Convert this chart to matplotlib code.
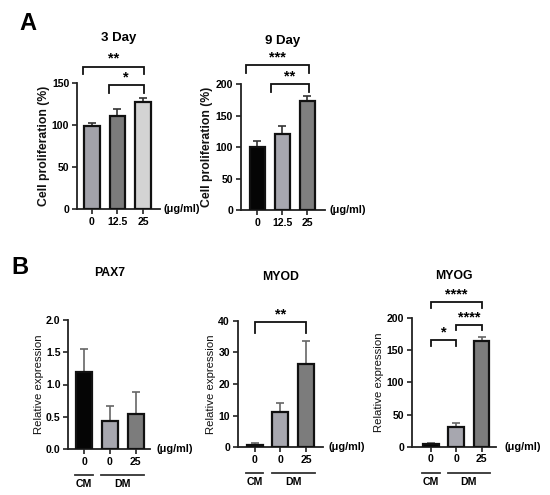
import matplotlib
matplotlib.use("Agg")
import matplotlib.pyplot as plt
from matplotlib.transforms import ScaledTranslation
from matplotlib.lines import Line2D
import numpy as np

plt.rcParams['font.family'] = ['Liberation Sans', 'DejaVu Sans']

# ---------------- data ----------------
a_doses = ["0", "12.5", "25"]
day3_mean = [99, 110, 127]
day3_err = [3, 8.5, 4.5]
day9_mean = [100, 121, 173]
day9_err = [9, 13, 8]
day3_sig = [(0, 2, "**", 169), (1, 2, "*", 147)]
day9_sig = [(0, 2, "***", 230), (1, 2, "**", 200)]

b_doses = ["0", "0", "25"]
b_groups = [("CM", 0, 0), ("DM", 1, 2)]
pax7_mean = [1.19, 0.44, 0.54]
pax7_err = [0.36, 0.23, 0.35]
myod_mean = [0.8, 11.2, 26.3]
myod_err = [0.5, 2.7, 7.4]
myog_mean = [4, 30.5, 164]
myog_err = [1.5, 6, 7]
myod_sig = [(0, 2, "**", 39.5)]
myog_sig = [(0, 2, "****", 225), (1, 2, "****", 190), (0, 1, "*", 166)]

W, H = 550, 495
fig = plt.figure(figsize=(W / 100, H / 100), dpi=100)


def make_ax(l, r, t, b):
    return fig.add_axes([l / W, 1 - b / H, (r - l) / W, (b - t) / H])


def style(ax, xlim, ylim, yticks, ylabels, xlabels, ylabel, ybold):
    ax.set_xlim(*xlim)
    ax.set_ylim(*ylim)
    for s in ["top", "right"]:
        ax.spines[s].set_visible(False)
    for s in ["left", "bottom"]:
        ax.spines[s].set_linewidth(1.3)
        ax.spines[s].set_color("#222222")
    ax.set_yticks(yticks)
    ax.set_yticklabels(ylabels, fontsize=7.6, fontweight="bold")
    ax.set_xticks(range(len(xlabels)))
    ax.set_xticklabels(xlabels, fontsize=7.6, fontweight="bold")
    ax.tick_params(axis="both", length=3.5, width=1.2, pad=2, color="#222222")
    ax.set_ylabel(ylabel, fontsize=8.8 if ybold else 8.2,
                  fontweight="bold" if ybold else "normal", labelpad=1.5,
                  color="#111111")


def bars(ax, means, errs, colors, width, ecolor):
    x = np.arange(len(means))
    ax.bar(x, means, width=width, color=colors, edgecolor="#111111",
           linewidth=1.6, zorder=3)
    ax.errorbar(x, means, yerr=[np.zeros(len(errs)), errs], fmt="none",
                ecolor=ecolor, elinewidth=1.2, capsize=2.8, capthick=1.2,
                zorder=2)


def brackets(ax, sig, drop, lshift, rshift):
    for i, j, lab, y in sig:
        x0, x1 = i + lshift, j + rshift
        ax.plot([x0, x0, x1, x1], [y - drop, y, y, y - drop], color="#111111",
                lw=1.3, clip_on=False, solid_joinstyle="miter")
        ax.text((x0 + x1) / 2, y + drop * 0.1, lab, ha="center", va="bottom",
                fontsize=10.5, fontweight="bold", clip_on=False)


def unit(ax, dx):
    ax.annotate("(μg/ml)", xy=(1, 0), xycoords="axes fraction",
                xytext=(dx, 0), textcoords="offset points", ha="left",
                va="center", fontsize=7.8, fontweight="bold")


def groups(ax, width):
    line_tr = ax.get_xaxis_transform() + ScaledTranslation(0, -26 / 100, fig.dpi_scale_trans)
    txt_tr = ax.get_xaxis_transform() + ScaledTranslation(0, -35 / 100, fig.dpi_scale_trans)
    for name, i, j in b_groups:
        ax.add_line(Line2D([i - width / 2 - 0.03, j + width / 2 + 0.03], [0, 0],
                           transform=line_tr, color="#333333", lw=1.3,
                           clip_on=False))
        ax.text((i + j) / 2, 0, name, transform=txt_tr, ha="center",
                va="center", fontsize=7.6, fontweight="bold")


# ---------------- Panel A ----------------
a1 = make_ax(77, 160, 82.7, 209.3)
bars(a1, day3_mean, day3_err, ["#a2a2aa", "#7b7b7b", "#d3d3d3"], 0.6, "#333333")
style(a1, (-0.59, 2.67), (0, 150), [0, 50, 100, 150],
      ["0", "50", "100", "150"], a_doses, "Cell proliferation (%)", True)
brackets(a1, day3_sig, 9, -0.35, 0.03)
unit(a1, 2.5)
a1.set_title("3 Day", fontsize=9.5, fontweight="bold", pad=30)

a2 = make_ax(240.7, 325, 84, 210)
bars(a2, day9_mean, day9_err, ["#050505", "#a7a7af", "#7f7f7f"], 0.62, "#333333")
style(a2, (-0.67, 2.7), (0, 200), [0, 50, 100, 150, 200],
      ["0", "50", "100", "150", "200"], a_doses, "Cell proliferation (%)", True)
brackets(a2, day9_sig, 13, -0.45, 0.05)
unit(a2, 3.5)
a2.set_title("9 Day", fontsize=9.5, fontweight="bold", pad=29)

fig.text(19 / W, 1 - 23 / H, "A", fontsize=17, fontweight="bold",
         ha="left", va="center")

# ---------------- Panel B ----------------
b_colors = ["#050505", "#a7a7af", "#7c7c7c"]

b1 = make_ax(68.3, 150.3, 320, 449)
bars(b1, pax7_mean, pax7_err, b_colors, 0.62, "#666666")
style(b1, (-0.62, 2.57), (0, 2), [0, 0.5, 1.0, 1.5, 2.0],
      ["0.0", "0.5", "1.0", "1.5", "2.0"], b_doses, "Relative expression", False)
unit(b1, 4.5)
groups(b1, 0.62)
b1.text(0.5, 1 - (273 - 320) / 129, "PAX7", transform=b1.transAxes,
        ha="center", va="center", fontsize=8.8, fontweight="bold")

b2 = make_ax(237.7, 323, 320.7, 447.3)
bars(b2, myod_mean, myod_err, b_colors, 0.62, "#666666")
style(b2, (-0.66, 2.66), (0, 40), [0, 10, 20, 30, 40],
      ["0", "10", "20", "30", "40"], b_doses, "Relative expression", False)
brackets(b2, myod_sig, 3.3, 0, 0)
unit(b2, 4)
groups(b2, 0.62)
b2.text(0.5, 1 - (277 - 320.7) / 126.6, "MYOD", transform=b2.transAxes,
        ha="center", va="center", fontsize=8.8, fontweight="bold")

b3 = make_ax(411.7, 495.5, 318.3, 446.7)
bars(b3, myog_mean, myog_err, b_colors, 0.62, "#666666")
style(b3, (-0.76, 2.55), (0, 200), [0, 50, 100, 150, 200],
      ["0", "50", "100", "150", "200"], b_doses, "Relative expression", False)
brackets(b3, myog_sig, 9, 0, 0)
unit(b3, 6.5)
groups(b3, 0.62)
b3.text(0.5, 1 - (276 - 318.3) / 128.4, "MYOG", transform=b3.transAxes,
        ha="center", va="center", fontsize=8.8, fontweight="bold")

fig.text(11 / W, 1 - 268 / H, "B", fontsize=17, fontweight="bold",
         ha="left", va="center")

fig.savefig("out.png", dpi=100, facecolor="white")
